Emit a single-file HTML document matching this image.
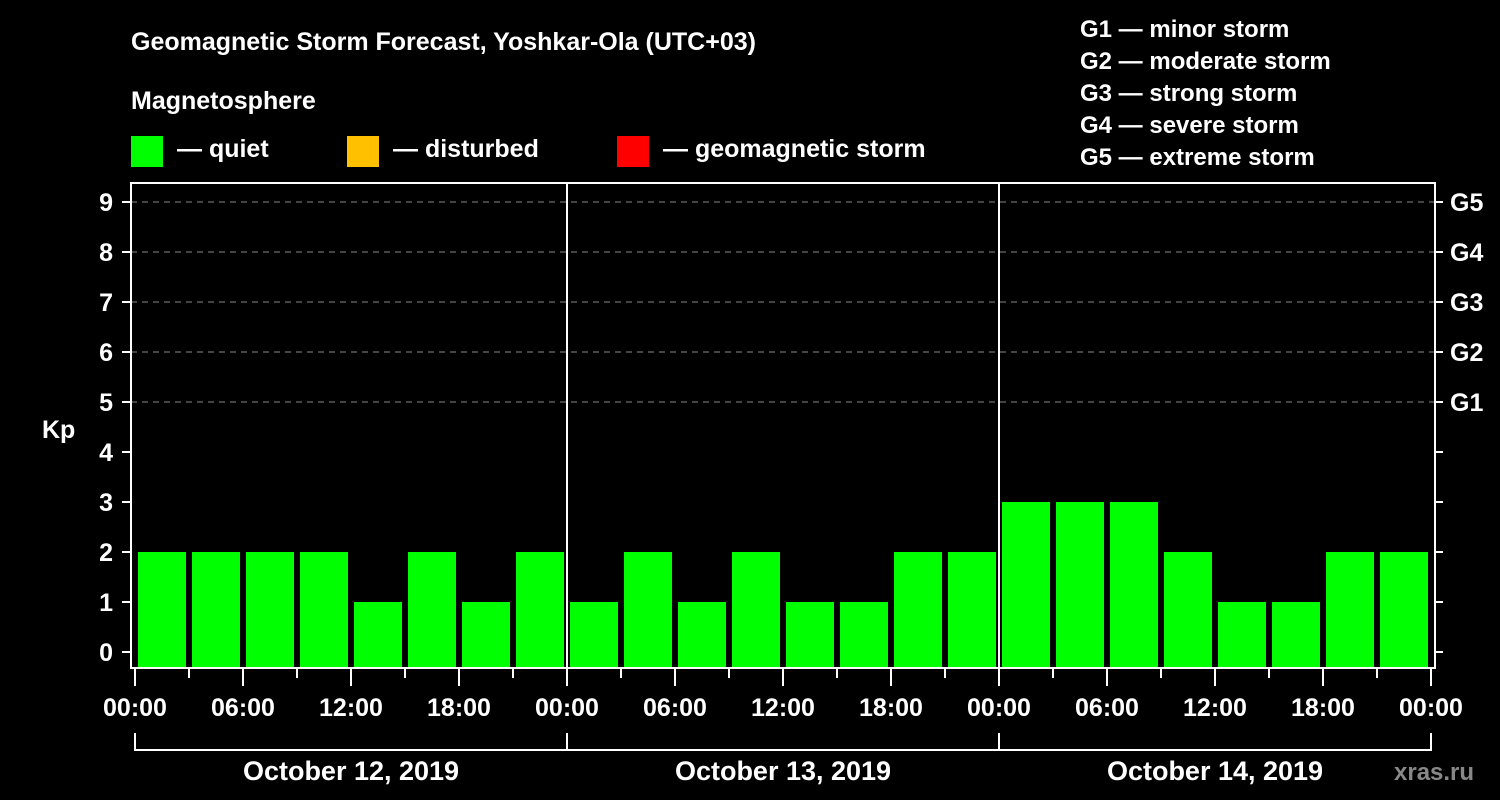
<!DOCTYPE html>
<html><head><meta charset="utf-8"><style>
body{margin:0;background:#000;}
svg{display:block;font-family:"Liberation Sans",Arial,sans-serif;font-weight:bold;}
</style></head><body>
<svg id="chart" width="1500" height="800" viewBox="0 0 1500 800">
<rect width="1500" height="800" fill="#000"/>
<text x="131" y="50" fill="#fff" font-size="25">Geomagnetic Storm Forecast, Yoshkar-Ola (UTC+03)</text>
<text x="131" y="109" fill="#fff" font-size="25">Magnetosphere</text>
<g><rect x="131" y="136" width="32" height="31" fill="#00ff00"/><text x="177" y="157" fill="#fff" font-size="25">— quiet</text></g>
<g><rect x="347" y="136" width="32" height="31" fill="#ffc000"/><text x="393" y="157" fill="#fff" font-size="25">— disturbed</text></g>
<g><rect x="617" y="136" width="32" height="31" fill="#ff0000"/><text x="663" y="157" fill="#fff" font-size="25">— geomagnetic storm</text></g>
<g fill="#fff" font-size="24">
<text x="1080" y="37">G1 — minor storm</text>
<text x="1080" y="69">G2 — moderate storm</text>
<text x="1080" y="101">G3 — strong storm</text>
<text x="1080" y="133">G4 — severe storm</text>
<text x="1080" y="165">G5 — extreme storm</text>
</g>
<text x="42" y="438" fill="#fff" font-size="25">Kp</text>
<text x="1394" y="780" fill="#888" font-size="24">xras.ru</text>
<g id="grid"></g><g id="bars"></g><g id="axes"></g>
</svg>
<script>
const days = ["October 12, 2019","October 13, 2019","October 14, 2019"];
const kpValues = [2,2,2,2,1,2,1,2, 1,2,1,2,1,1,2,2, 3,3,3,2,1,1,2,2];
const yTicks = [0,1,2,3,4,5,6,7,8,9];
const gLabels = ["G1","G2","G3","G4","G5"];
const hourLabels = ["00:00","06:00","12:00","18:00"];
const NS="http://www.w3.org/2000/svg";
const x0=135, dayW=432, plotL=131, plotR=1435, plotT=183, plotB=668;
const xH = h => x0 + h*dayW/24;
const yK = v => 652 - v*50;
function mk(tag, attrs, parent){const e=document.createElementNS(NS,tag);for(const k in attrs)e.setAttribute(k,attrs[k]);parent.appendChild(e);return e;}
const grid=document.getElementById('grid'), bars=document.getElementById('bars'), axes=document.getElementById('axes');
yTicks.forEach(v=>{
  if(v>=5){const l=mk('line',{x1:plotL,x2:plotR,y1:yK(v),y2:yK(v),stroke:'#888','stroke-dasharray':'6,5','stroke-width':1},grid);
  
  }
  const t=mk('line',{x1:122,x2:plotL,y1:yK(v),y2:yK(v),stroke:'#fff','stroke-width':2},axes);
  
  
  const r=mk('line',{x1:plotR,x2:plotR+8,y1:yK(v),y2:yK(v),stroke:'#fff','stroke-width':2},axes);
  
  
  const tx=mk('text',{x:113,y:yK(v)+9,fill:'#fff','font-size':25,'text-anchor':'end'},axes);
  tx.textContent=v;
  
  
  if(v>=5){const g=mk('text',{x:1450,y:yK(v)+9,fill:'#fff','font-size':25},axes);
  g.textContent=gLabels[v-5];
  
  }
});
kpValues.forEach((v,i)=>{
  const xs=xH(i*3)+3, xe=xH(i*3+3)-3;
  const col = v>=5?'#ff0000':(v>=4?'#ffc000':'#00ff00');
  const b=mk('rect',{x:xs,y:yK(v),width:xe-xs,height:plotB-yK(v),fill:col},bars);
  
  
});
mk('rect',{x:plotL,y:plotT,width:plotR-plotL,height:plotB-plotT,fill:'none',stroke:'#fff','stroke-width':2},axes);
for(let d=1;d<days.length;d++){
  const s=mk('line',{x1:xH(24*d),x2:xH(24*d),y1:plotT,y2:plotB,stroke:'#fff','stroke-width':2},axes);
  
  
}
for(let h=0;h<=24*days.length;h+=3){
  const major=h%6===0;
  const t=mk('line',{x1:xH(h),x2:xH(h),y1:plotB,y2:major?686:678,stroke:'#fff','stroke-width':2},axes);
  
  
  if(major){
    const tx=mk('text',{x:xH(h),y:716,fill:'#fff','font-size':25,'text-anchor':'middle'},axes);
    tx.textContent=hourLabels[(h%24)/6];
    
    
  }
}
days.forEach((d,i)=>{
  const a=xH(24*i), b=xH(24*(i+1));
  const p=mk('path',{d:`M${a},733 V750 H${b} V733`,fill:'none',stroke:'#fff','stroke-width':2},axes);
  
  
  const t=mk('text',{x:(a+b)/2,y:780,fill:'#fff','font-size':27,'text-anchor':'middle'},axes);
  t.textContent=d;
  
  
});
</script>
</body></html>
